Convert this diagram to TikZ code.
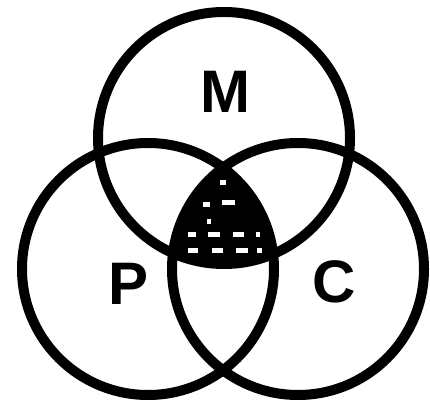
\documentclass[tikz,border=0pt]{standalone}
\usepackage{fontspec}
\setmainfont{Liberation Sans}
\begin{document}
\begin{tikzpicture}[x=1pt,y=1pt,
  ring/.style={draw=black,line width=10pt},
  lbl/.style={font=\fontsize{60}{60}\selectfont\bfseries,inner sep=0pt},
  gap/.style={draw=white,line width=5pt}]
\useasboundingbox[fill=white] (0,0) rectangle (430,406);
\coordinate (cm) at (224,268);
\coordinate (cp) at (148,137);
\coordinate (cc) at (298,137);
\begin{scope}
  \clip (cm) circle (126);
  \clip (cp) circle (126);
  \fill[black] (cc) circle (126);
  \draw[gap] (220,223) -- (226,223);
  \draw[gap] (203,201) -- (210,201);
  \draw[gap] (222,203) -- (235,203);
  \draw[gap] (207,184) -- (211,184);
  \draw[gap] (188,171) -- (196,171);
  \draw[gap] (208,171) -- (220,171);
  \draw[gap] (233,171) -- (244,171);
  \draw[gap] (256,171) -- (260,171);
  \draw[gap] (188,155) -- (198,155);
  \draw[gap] (212,155) -- (223,155);
  \draw[gap] (236,155) -- (248,155);
  \draw[gap] (257,155) -- (262,155);
\end{scope}
\draw[ring] (cm) circle (126);
\draw[ring] (cp) circle (126);
\draw[ring] (cc) circle (126);
\node[lbl] (m) at (225,314) {M};
\node[lbl] (p) at (129,122) {P};
\node[lbl] (c) at (334,124) {C};
\end{tikzpicture}
\end{document}
